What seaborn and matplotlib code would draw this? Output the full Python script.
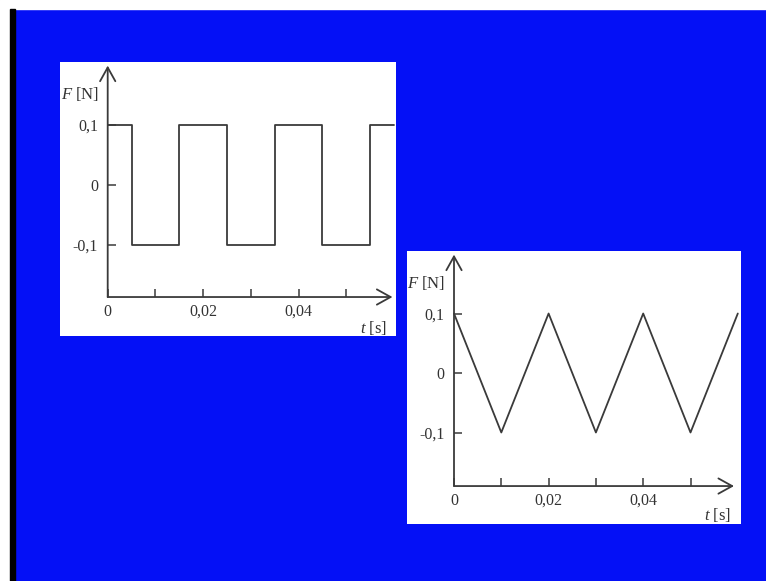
import matplotlib
matplotlib.use("Agg")
import matplotlib.pyplot as plt
from matplotlib.patches import Rectangle
import seaborn as sns
import pandas as pd

# ---- data ----
t_square = [0, 0.005, 0.005, 0.015, 0.015, 0.025, 0.025, 0.035, 0.035, 0.045, 0.045, 0.055, 0.055, 0.06]
F_square = [0.1, 0.1, -0.1, -0.1, 0.1, 0.1, -0.1, -0.1, 0.1, 0.1, -0.1, -0.1, 0.1, 0.1]
t_triangle = [0, 0.01, 0.02, 0.03, 0.04, 0.05, 0.06]
F_triangle = [0.1, -0.1, 0.1, -0.1, 0.1, -0.1, 0.1]
x_ticks = [0, 0.01, 0.02, 0.03, 0.04, 0.05]
x_ticklabels = ["0", "", "0,02", "", "0,04", ""]
y_ticks = [-0.1, 0, 0.1]
y_ticklabels = ["-0,1", "0", "0,1"]
y_label = "$F$ [N]"
x_label = "$t$ [s]"

sns.set_theme(style="white")
plt.rcParams["font.family"] = ["Liberation Serif", "DejaVu Serif"]
plt.rcParams["mathtext.fontset"] = "custom"
plt.rcParams["mathtext.it"] = "Liberation Serif:italic"
plt.rcParams["mathtext.rm"] = "Liberation Serif"

W, H = 766, 581
BLUE = "#0410F6"
INK = "#3a3a3a"
fig = plt.figure(figsize=(W / 100, H / 100), dpi=100, facecolor=BLUE)

# white/black borders of the screen capture
fig.patches.append(Rectangle((0, 1 - 9 / H), 1, 9 / H, transform=fig.transFigure, color="white", zorder=0))
fig.patches.append(Rectangle((0, 0), 10 / W, 1, transform=fig.transFigure, color="white", zorder=0))
fig.patches.append(Rectangle((10 / W, 0), 5 / W, 1 - 9 / H, transform=fig.transFigure, color="black", zorder=0))


def make_panel(px_left, px_top, px_right, px_bottom, ox, oy, sx, sy, axis_y, xtip, ytip, t, F):
    ax = fig.add_axes([px_left / W, 1 - px_bottom / H, (px_right - px_left) / W, (px_bottom - px_top) / H])
    ax.set_facecolor("white")
    df = pd.DataFrame({"t": t, "F": F})
    sns.lineplot(data=df, x="t", y="F", ax=ax, estimator=None, sort=False, color=INK, lw=1.3)
    ax.set_xlim(-(ox - px_left) / sx, (px_right - ox) / sx)
    ax.set_ylim(-(px_bottom - oy) / sy, (oy - px_top) / sy)
    for s in ax.spines.values():
        s.set_visible(False)
    ax.spines["left"].set_position(("data", 0))
    ax.spines["bottom"].set_position(("data", axis_y))
    ax.set_xticks(x_ticks)
    ax.set_xticklabels(x_ticklabels)
    ax.set_yticks(y_ticks)
    ax.set_yticklabels(y_ticklabels)
    ax.tick_params(axis="both", direction="in", length=6, width=1.1, color=INK,
                   labelsize=11.5, labelcolor="#333333")
    ax.tick_params(axis="x", pad=5)
    ax.tick_params(axis="y", pad=7)
    ax.xaxis.set_ticks_position("bottom")
    ax.yaxis.set_ticks_position("left")
    ax.set_xlabel("")
    ax.set_ylabel("")
    ax.grid(False)
    arrow = dict(arrowstyle="->,head_length=0.45,head_width=0.25", lw=1.3, color=INK,
                 shrinkA=0, shrinkB=0, mutation_scale=22)
    ax.annotate("", xy=(xtip, axis_y), xytext=(0, axis_y), arrowprops=arrow)
    ax.annotate("", xy=(0, ytip), xytext=(0, axis_y), arrowprops=arrow)
    ax.text(-0.0058, 0.152, y_label, ha="center", va="center", fontsize=12, color="#333333")
    ax.text(0.0558, -0.239, x_label, ha="center", va="center", fontsize=12, color="#333333")
    return ax


make_panel(60, 62, 396, 336, 107.7, 185, 4770, 600, -0.1867, 0.0597, 0.199, t_square, F_square)
make_panel(407, 251, 741, 524, 454, 373, 4730, 595, -0.19, 0.0592, 0.199, t_triangle, F_triangle)

fig.savefig("out.png", dpi=100, facecolor=BLUE)
